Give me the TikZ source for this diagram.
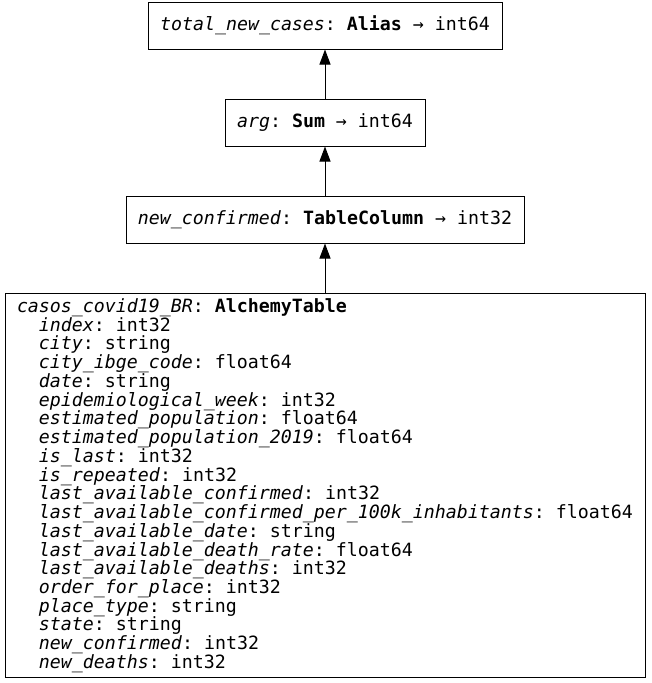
\documentclass[tikz,border=0pt]{standalone}
\usepackage{fontspec}
\setmonofont{DejaVu Sans Mono}
\usetikzlibrary{arrows.meta,positioning}

\begin{document}
\begin{tikzpicture}[x=0.75pt, y=-0.75pt, node distance=36.75pt,
  every node/.style={font=\ttfamily\fontsize{13.7}{14.05}\selectfont},
  op/.style={draw, line width=0.75pt, minimum height=35.25pt, inner sep=0pt},
  edge/.style={-{Triangle[length=11.25pt,width=8.25pt]}, line width=0.75pt}]
  \useasboundingbox (0,0) rectangle (651,683);
  % source table with its columns
  \node[op, inner xsep=9pt, inner ysep=0pt] (tbl) at (325,485) {\parbox[c][288pt][t]{462pt}{%
    \rule{0pt}{14.6pt}\textit{casos\_covid19\_BR}: \textbf{AlchemyTable}%
    \foreach \fname/\ftype in {index/int32, city/string, city\_ibge\_code/float64,
      date/string, epidemiological\_week/int32, estimated\_population/float64,
      estimated\_population\_2019/float64, is\_last/int32, is\_repeated/int32,
      last\_available\_confirmed/int32,
      last\_available\_confirmed\_per\_100k\_inhabitants/float64,
      last\_available\_date/string, last\_available\_death\_rate/float64,
      last\_available\_deaths/int32, order\_for\_place/int32,
      place\_type/string, state/string, new\_confirmed/int32, new\_deaths/int32}
    {\\\phantom{xx}\textit{\fname}: \ftype}}};
  % expression chain
  \node[op, minimum width=298.5pt, above=of tbl] (col)
    {\textit{new\_confirmed}: \textbf{TableColumn} → int32};
  \node[op, minimum width=150pt, above=of col] (sum)
    {\textit{arg}: \textbf{Sum} → int64};
  \node[op, minimum width=265.5pt, above=of sum] (alias)
    {\textit{total\_new\_cases}: \textbf{Alias} → int64};
  \draw[edge] (tbl) -- (col);
  \draw[edge] (col) -- (sum);
  \draw[edge] (sum) -- (alias);
\end{tikzpicture}
\end{document}
